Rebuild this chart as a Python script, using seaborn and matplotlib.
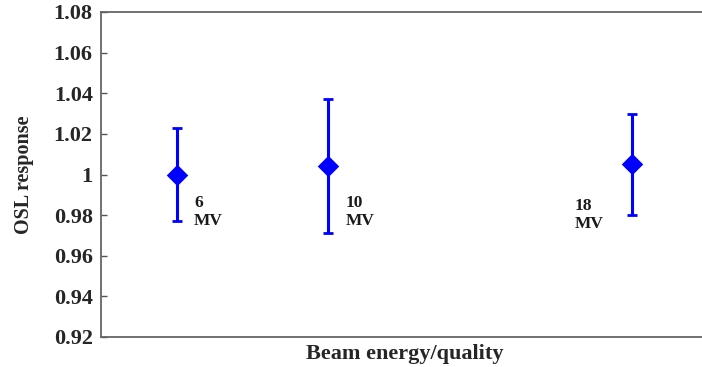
import matplotlib
matplotlib.use("Agg")
import matplotlib.pyplot as plt
import seaborn as sns
import pandas as pd

# Beam energies (MV), mean OSL response and uncertainty
energies = [6, 10, 18]
response = [1.000, 1.004, 1.005]
uncertainty = [0.023, 0.033, 0.025]
point_labels = ["6\nMV", "10\nMV", "18\nMV"]
label_x = [6.45, 10.45, 16.5]
label_y = [0.9898, 0.9898, 0.9885]
y_ticks = [0.92, 0.94, 0.96, 0.98, 1.00, 1.02, 1.04, 1.06, 1.08]

sns.set_style("white")
plt.rcParams["font.family"] = ["Liberation Serif", "DejaVu Serif"]

df = pd.DataFrame({"energy": energies, "response": response, "err": uncertainty})

fig = plt.figure(figsize=(7.02, 3.67), dpi=100)
ax = fig.add_axes([101 / 702, 1 - 337 / 367, 606.6 / 702, 325 / 367])

blue = "#0000ff"
ax.errorbar(df["energy"], df["response"], yerr=df["err"], fmt="none",
            ecolor=blue, elinewidth=2.2, capsize=3.6, capthick=2, zorder=2)
sns.scatterplot(data=df, x="energy", y="response", marker="D", s=120,
                color=blue, edgecolor=blue, linewidth=0, ax=ax, zorder=3)

for x, y, t in zip(label_x, label_y, point_labels):
    ax.text(x, y, t, ha="left", va="top", fontsize=12.5, fontweight="bold",
            linespacing=1.15, color="#1a1a1a")

ax.set_xlim(4, 20)
ax.set_ylim(0.92, 1.08)
ax.set_xticks([])
ax.set_yticks(y_ticks)
ax.set_yticklabels([f"{v:g}" for v in y_ticks], fontsize=16, fontweight="bold")
ax.tick_params(axis="y", direction="in", length=4.5, width=1, color="#555555",
               left=True, right=True, pad=6)

ax.set_xlabel("Beam energy/quality", fontsize=16, fontweight="bold", labelpad=5)
ax.set_ylabel("OSL response", fontsize=14.5, fontweight="bold")
ax.yaxis.set_label_coords(-0.11, 0.5)

for side in ["left", "bottom", "top", "right"]:
    ax.spines[side].set_color("#666666")
    ax.spines[side].set_linewidth(1.3)

fig.savefig("out.png", dpi=100)
